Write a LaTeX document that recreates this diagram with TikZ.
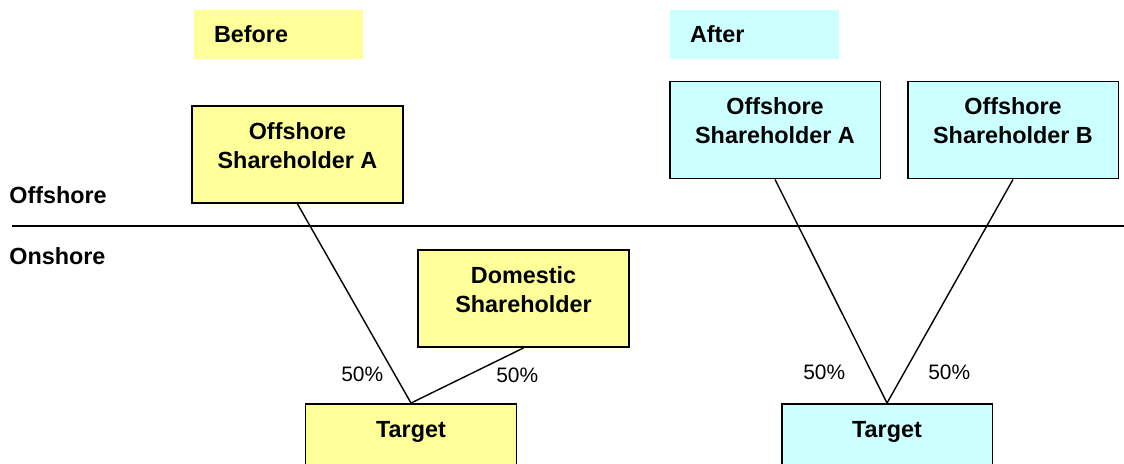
\documentclass[tikz,border=0pt]{standalone}
\usepackage{fontspec}
\setmainfont{Liberation Sans}
\definecolor{beforefill}{HTML}{FFFF99}
\definecolor{afterfill}{HTML}{CCFFFF}
\tikzset{
  holder/.style={draw, line width=1.1pt, minimum width=4.22cm, minimum height=1.94cm, inner sep=0pt},
  holdertext/.style={anchor=north, align=center, inner sep=0pt,
    font=\fontsize{13.3}{16.4}\selectfont\bfseries},
  tag/.style={minimum height=0.98cm, text width=2.58cm, inner xsep=0.4cm, align=left,
    font=\fontsize{13.3}{16.4}\selectfont\bfseries},
  side/.style={anchor=base west, inner sep=0pt, font=\fontsize{13.3}{16.4}\selectfont\bfseries},
  share/.style={anchor=base west, inner sep=0pt, font=\fontsize{11.9}{14}\selectfont},
  link/.style={line width=0.8pt}
}
\begin{document}
\begin{tikzpicture}[x=0.02cm, y=-0.02cm]
  \useasboundingbox (0,0) rectangle (1124,463);
  \clip (0,0) rectangle (1124,463);
  % offshore / onshore divide
  \coordinate (divl) at (12,226);
  \coordinate (divr) at (1124,226);
  \draw[line width=1pt] (divl) -- (divr);
  \path (9,203) node[side] (offlabel) {Offshore};
  \path (9,264) node[side] (onlabel) {Onshore};
  % before
  \path (278.5,34.5) node[tag, fill=beforefill] (before) {Before};
  \path (297.5,154.5) node[holder, fill=beforefill] (offA) {};
  \path ([yshift=-0.34cm]offA.north) node[holdertext] (offAtext) {Offshore\\Shareholder A};
  \path (523.5,298.5) node[holder, fill=beforefill] (dom) {};
  \path ([yshift=-0.34cm]dom.north) node[holdertext] (domtext) {Domestic\\Shareholder};
  \path (411,452.5) node[holder, fill=beforefill] (tgt) {};
  \path ([yshift=-0.36cm]tgt.north) node[holdertext] (tgttext) {Target};
  \draw[link] (offA.south) -- (tgt.north);
  \draw[link] (dom.south) -- (tgt.north);
  \path (341,381) node[share] (pA) {50\%};
  \path (496,382) node[share] (pD) {50\%};
  % after
  \path (754.5,34.5) node[tag, fill=afterfill] (after) {After};
  \path (775,130) node[holder, fill=afterfill] (offA2) {};
  \path ([yshift=-0.34cm]offA2.north) node[holdertext] (offA2text) {Offshore\\Shareholder A};
  \path (1013,130) node[holder, fill=afterfill] (offB) {};
  \path ([yshift=-0.34cm]offB.north) node[holdertext] (offBtext) {Offshore\\Shareholder B};
  \path (887,452.5) node[holder, fill=afterfill] (tgt2) {};
  \path ([yshift=-0.36cm]tgt2.north) node[holdertext] (tgt2text) {Target};
  \draw[link] (offA2.south) -- (tgt2.north);
  \draw[link] (offB.south) -- (tgt2.north);
  \path (803,379) node[share] (pA2) {50\%};
  \path (928,379) node[share] (pB) {50\%};
\end{tikzpicture}
\end{document}
